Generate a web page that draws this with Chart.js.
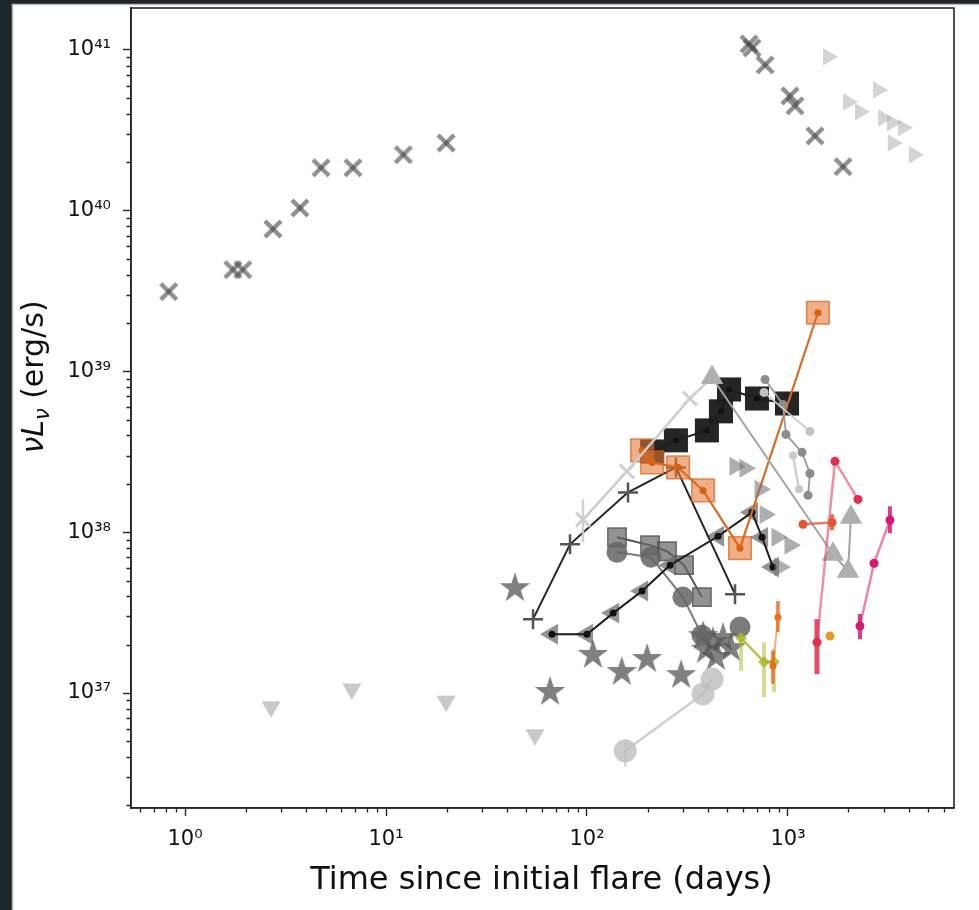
<!DOCTYPE html>
<html>
<head>
<meta charset="utf-8">
<script src="https://cdn.jsdelivr.net/npm/chart.js@4.4.1/dist/chart.umd.min.js"></script>
<style>
  html, body { margin: 0; padding: 0; background: #1d262b; }
  canvas { display: block; }
</style>
</head>
<body>
<canvas id="c" width="979" height="910"></canvas>
<script>
// ---- axis ranges and decade ticks ----
const X_MIN = 0.5386, X_MAX = 6698;
const Y_MIN = 1.926e36, Y_MAX = 1.824e41;
const xMajor = [1, 10, 100, 1000];
const yMajor = [1e37, 1e38, 1e39, 1e40, 1e41];

// ---- sources: time since flare (days) / nu L_nu (erg/s) ----
const xFlareX = [0.83, 1.73, 1.94, 2.74, 3.73, 4.75, 6.85, 12.2, 19.9, 640, 662, 769, 1023, 1083, 1362, 1879];
const yFlareX = [3.14e39, 4.3e39, 4.3e39, 7.7e39, 1.04e40, 1.85e40, 1.85e40, 2.23e40, 2.64e40, 1.09e41, 1.03e41, 8.07e40, 5.18e40, 4.49e40, 2.92e40, 1.88e40];

const xPaleRight = [1581, 1990, 2281, 2805, 2971, 3290, 3328, 3733, 4236];
const yPaleRight = [9.06e40, 4.75e40, 4.12e40, 5.64e40, 3.78e40, 3.52e40, 2.64e40, 3.28e40, 2.23e40];

const xDown = [2.68, 6.77, 19.9, 55.1];
const yDown = [8.2e36, 1.06e37, 8.9e36, 5.5e36];

const xStar = [43.8, 65.5, 107, 149, 199, 294, 378, 391, 423, 438, 475, 520];
const yStar = [4.55e37, 1.03e37, 1.75e37, 1.37e37, 1.65e37, 1.31e37, 2.29e37, 1.88e37, 2.1e37, 1.7e37, 2.23e37, 1.93e37];

const xBlackSq = [211, 277, 395, 464, 509, 701, 989];
const yBlackSq = [3.18e38, 3.73e38, 4.3e38, 5.65e38, 7.73e38, 6.79e38, 6.32e38];

const xGraySq = [141, 206, 250, 304, 373];
const yGraySq = [9.3e37, 8.3e37, 7.62e37, 6.24e37, 3.95e37];

const xGrayCirc = [141, 208, 300, 373, 577];
const yGrayCirc = [7.51e37, 7.0e37, 3.95e37, 2.29e37, 2.57e37];

const xPaleCirc = [155, 378, 419];
const yPaleCirc = [4.37e36, 9.86e36, 1.22e37];
const loPaleCirc = [3.5e36, null, null];
const hiPaleCirc = [4.9e36, null, null];

const xLeftTri = [67, 100, 135, 188, 259, 449, 662, 743, 842];
const yLeftTri = [2.32e37, 2.32e37, 3.14e37, 4.31e37, 6.24e37, 9.44e37, 1.33e38, 9.3e37, 6.07e37];

const xPlus = [53.9, 82.3, 160, 277, 545];
const yPlus = [2.88e37, 8.42e37, 1.77e38, 2.53e38, 4.12e37];

const xPaleX = [95.5, 158, 325, 419];
const yPaleX = [1.2e38, 2.39e38, 6.79e38, 9.18e38];
const loPaleX = [8.67e37, null, null, null];
const hiPaleX = [1.6e38, null, null, null];

const xGrayTri = [419, 1675, 1990, 2057];
const yGrayTri = [9.18e38, 7.3e37, 5.72e37, 1.24e38];

const xGrayRight = [545, 611, 726, 769, 881, 1023, 912];
const yGrayRight = [2.57e38, 2.5e38, 1.85e38, 1.29e38, 9.3e37, 8.3e37, 6.07e37];

const xDots = [769, 944, 977, 1174, 1286, 1258];
const yDots = [8.91e38, 6.24e38, 4.06e38, 3.14e38, 2.32e38, 1.7e38];
const xDotsPale = [760, 1286];
const yDotsPale = [7.41e38, 4.24e38];
const xDotsPale2 = [1059, 1135];
const yDotsPale2 = [3.0e38, 1.85e38];

const xOrangeSq = [188, 211, 284, 378, 577, 1409];
const yOrangeSq = [3.23e38, 2.72e38, 2.53e38, 1.82e38, 7.96e37, 2.32e39];

const xOlive = [584, 760, 851];
const yOlive = [2.2e37, 1.56e37, 1.56e37];
const loOlive = [1.37e37, 9.44e36, 1.01e37];
const hiOlive = [2.32e37, 2.07e37, 1.88e37];

const xOrange = [891, 842];
const yOrange = [2.96e37, 1.47e37];
const loOrange = [2.39e37, 1.14e37];
const hiOrange = [3.73e37, 1.83e37];

const xCrimson = [1394, 1713, 2230];
const yCrimson = [2.07e37, 2.76e38, 1.6e38];
const loCrimson = [1.31e37, null, null];
const hiCrimson = [2.88e37, null, null];

const xVermilion = [1188, 1656];
const yVermilion = [1.12e38, 1.15e38];
const loVermilion = [null, 1.03e38];
const hiVermilion = [null, 1.29e38];

const xMagenta = [2281, 2679, 3215];
const yMagenta = [2.61e37, 6.41e37, 1.19e38];
const loMagenta = [2.16e37, null, 9.86e37];
const hiMagenta = [3.1e37, null, 1.45e38];

const xGold = [1618];
const yGold = [2.26e37];

// ---- helpers ----
const pts = (xs, ys) => xs.map((x, i) => ({ x, y: ys[i] }));
const SUP = { '0': '\u2070', '1': '\u00b9', '2': '\u00b2', '3': '\u00b3', '4': '\u2074', '5': '\u2075', '6': '\u2076', '7': '\u2077', '8': '\u2078', '9': '\u2079', '-': '\u207b' };
const decadeLabel = v => '10' + String(Math.round(Math.log10(v))).split('').map(c => SUP[c]).join('');

function xMarker() {
  const c = document.createElement('canvas');
  c.width = c.height = 24;
  const g = c.getContext('2d');
  g.strokeStyle = 'rgba(70,70,70,0.6)';
  g.lineWidth = 4.5;
  g.beginPath(); g.moveTo(4, 4); g.lineTo(20, 20); g.stroke();
  g.beginPath(); g.moveTo(20, 4); g.lineTo(4, 20); g.stroke();
  return c;
}
function starMarker(R, fill) {
  const c = document.createElement('canvas');
  const s = Math.ceil(2 * R + 2);
  c.width = c.height = s;
  const g = c.getContext('2d');
  g.fillStyle = fill;
  g.beginPath();
  for (let k = 0; k < 10; k++) {
    const r = k % 2 ? R * 0.382 : R;
    const a = -Math.PI / 2 + k * Math.PI / 5;
    g.lineTo(s / 2 + r * Math.cos(a), s / 2 + r * Math.sin(a) + 1);
  }
  g.closePath();
  g.fill();
  return c;
}
const X_IMG = xMarker();
const STAR_IMG = starMarker(16, 'rgba(85,85,85,0.75)');

// ---- datasets, listed bottom to top ----
const datasets = [];
function add(ds) {
  ds.order = -datasets.length;
  datasets.push(Object.assign({ showLine: false, tension: 0, pointBorderWidth: 0 }, ds));
}

add({ data: pts(xFlareX, yFlareX), pointStyle: X_IMG, pointRadius: 10 });
add({ data: pts(xPaleRight, yPaleRight), pointStyle: 'triangle', pointRotation: 90, pointRadius: 10, pointBackgroundColor: 'rgba(170,170,170,0.5)' });
add({ data: pts(xDown, yDown), pointStyle: 'triangle', pointRotation: 180, pointRadius: 11, pointBackgroundColor: 'rgba(165,165,165,0.6)' });
add({ data: pts(xStar, yStar), pointStyle: STAR_IMG, pointRadius: 10 });

add({ data: pts(xBlackSq, yBlackSq), pointStyle: 'rect', pointRadius: 17, pointBackgroundColor: 'rgba(25,25,25,0.95)' });
add({ data: pts(xBlackSq, yBlackSq), showLine: true, borderColor: '#1e1e1e', borderWidth: 2, pointStyle: 'circle', pointRadius: 3, pointBackgroundColor: '#111' });

add({ data: pts(xGraySq, yGraySq), showLine: true, borderColor: 'rgba(70,70,70,0.9)', borderWidth: 2, pointStyle: 'rect', pointRadius: 13, pointBackgroundColor: 'rgba(100,100,100,0.7)', pointBorderColor: 'rgba(80,80,80,0.8)', pointBorderWidth: 1.5 });
add({ data: pts(xGrayCirc.slice(0, 4), yGrayCirc.slice(0, 4)), showLine: true, borderColor: 'rgba(110,110,110,0.9)', borderWidth: 2, pointRadius: 0 });
add({ data: pts(xGrayCirc, yGrayCirc), pointStyle: 'circle', pointRadius: 10.5, pointBackgroundColor: 'rgba(100,100,100,0.85)' });
add({ data: pts(xPaleCirc, yPaleCirc), errLo: loPaleCirc, errHi: hiPaleCirc, errColor: 'rgba(200,200,200,0.9)', errWidth: 2,
      showLine: true, borderColor: '#cfcfcf', borderWidth: 2.5, pointStyle: 'circle', pointRadius: 11.5, pointBackgroundColor: 'rgba(190,190,190,0.8)' });

add({ data: pts(xLeftTri, yLeftTri), pointStyle: 'triangle', pointRotation: 270, pointRadius: 12, pointBackgroundColor: 'rgba(105,105,105,0.72)' });
add({ data: pts(xLeftTri, yLeftTri), showLine: true, borderColor: '#1e1e1e', borderWidth: 2, pointStyle: 'circle', pointRadius: 3.5, pointBackgroundColor: '#111' });

add({ data: pts(xPlus, yPlus), showLine: true, borderColor: '#262626', borderWidth: 2, pointStyle: 'cross', pointRadius: 10, pointBorderColor: '#555', pointBorderWidth: 2.5 });

add({ data: pts(xOrangeSq, yOrangeSq), pointStyle: 'rect', pointRadius: 16, pointBackgroundColor: 'rgba(228,118,50,0.58)', pointBorderColor: 'rgba(215,95,20,0.7)', pointBorderWidth: 1.5 });
add({ data: pts(xOrangeSq, yOrangeSq), showLine: true, borderColor: '#dd6a1f', borderWidth: 2.2, pointStyle: 'circle', pointRadius: 3.5, pointBackgroundColor: '#d9600f' });

add({ data: pts(xPaleX, yPaleX), errLo: loPaleX, errHi: hiPaleX, errColor: 'rgba(205,205,205,0.95)', errWidth: 2.5,
      showLine: true, borderColor: '#cdcdcd', borderWidth: 2.5, pointStyle: 'crossRot', pointRadius: [10, 10, 10, 0], pointBorderColor: '#d0d0d0', pointBorderWidth: 3 });

add({ data: pts(xGrayTri, yGrayTri), showLine: true, borderColor: '#a3a3a3', borderWidth: 2, pointStyle: 'triangle', pointRadius: 13, pointBackgroundColor: '#afafaf' });
add({ data: pts(xGrayRight, yGrayRight), pointStyle: 'triangle', pointRotation: 90, pointRadius: 11, pointBackgroundColor: 'rgba(120,120,120,0.6)' });

add({ data: pts(xDots, yDots), showLine: true, borderColor: '#9a9a9a', borderWidth: 1.8, pointStyle: 'circle', pointRadius: 4.5, pointBackgroundColor: '#8c8c8c' });
add({ data: pts(xDotsPale, yDotsPale), showLine: true, borderColor: '#c8c8c8', borderWidth: 1.8, pointStyle: 'circle', pointRadius: 4.5, pointBackgroundColor: '#c2c2c2' });
add({ data: pts(xDotsPale2, yDotsPale2), showLine: true, borderColor: '#cfcfcf', borderWidth: 2.5, pointStyle: 'circle', pointRadius: 4, pointBackgroundColor: '#c8c8c8' });

add({ data: pts(xOlive, yOlive), errLo: loOlive, errHi: hiOlive, errColor: 'rgba(181,190,60,0.55)', errWidth: 4,
      showLine: true, borderColor: 'rgba(170,180,40,0.8)', borderWidth: 2.5, pointStyle: 'rectRot', pointRadius: 6, pointBackgroundColor: 'rgba(170,180,40,0.8)' });
add({ data: pts(xOrange, yOrange), errLo: loOrange, errHi: hiOrange, errColor: 'rgba(230,110,30,0.85)', errWidth: 3.5,
      showLine: true, borderColor: 'rgba(232,112,26,0.55)', borderWidth: 2, pointStyle: 'circle', pointRadius: 3.5, pointBackgroundColor: '#e8701a' });
add({ data: pts(xCrimson, yCrimson), errLo: loCrimson, errHi: hiCrimson, errColor: 'rgba(220,45,75,0.85)', errWidth: 5,
      showLine: true, borderColor: 'rgba(228,70,100,0.6)', borderWidth: 2.5, pointStyle: 'circle', pointRadius: 4.5, pointBackgroundColor: '#e0304e' });
add({ data: pts(xVermilion, yVermilion), errLo: loVermilion, errHi: hiVermilion, errColor: 'rgba(230,82,44,0.85)', errWidth: 4,
      showLine: true, borderColor: 'rgba(230,82,44,0.75)', borderWidth: 2.5, pointStyle: 'circle', pointRadius: 4.5, pointBackgroundColor: '#e6522c' });
add({ data: pts(xMagenta, yMagenta), errLo: loMagenta, errHi: hiMagenta, errColor: 'rgba(214,24,110,0.85)', errWidth: 4,
      showLine: true, borderColor: 'rgba(220,50,120,0.6)', borderWidth: 2.5, pointStyle: 'circle', pointRadius: 4.5, pointBackgroundColor: '#d6186e' });
add({ data: pts(xGold, yGold), pointStyle: 'circle', pointRadius: 4.5, pointBackgroundColor: '#e69a1c' });

// ---- plugins ----
const paper = {
  id: 'paper',
  beforeDraw(chart) {
    const g = chart.ctx;
    g.save();
    g.fillStyle = '#1d262b';
    g.fillRect(0, 0, chart.width, chart.height);
    g.fillStyle = '#ffffff';
    g.fillRect(12, 4, chart.width - 12, chart.height - 4);
    g.strokeStyle = '#b8bdc0';
    g.lineWidth = 1.5;
    g.beginPath();
    g.moveTo(12, 4.5); g.lineTo(chart.width, 4.5);
    g.moveTo(12.5, 4); g.lineTo(12.5, chart.height);
    g.stroke();
    g.restore();
  }
};

const errorBars = {
  id: 'errorBars',
  beforeDatasetDraw(chart, args) {
    const ds = chart.data.datasets[args.index];
    if (!ds.errLo) return;
    const { x, y } = chart.scales;
    const g = chart.ctx;
    g.save();
    g.strokeStyle = ds.errColor;
    g.lineWidth = ds.errWidth;
    ds.data.forEach((p, i) => {
      if (ds.errLo[i] == null) return;
      const px = x.getPixelForValue(p.x);
      g.beginPath();
      g.moveTo(px, y.getPixelForValue(ds.errLo[i]));
      g.lineTo(px, y.getPixelForValue(ds.errHi[i]));
      g.stroke();
    });
    g.restore();
  }
};

const frameAndMinor = {
  id: 'frameAndMinor',
  afterDraw(chart) {
    const { ctx: g, chartArea: a, scales: { x, y } } = chart;
    g.save();
    g.strokeStyle = '#262626';
    g.lineWidth = 1.3;
    g.beginPath();
    for (let e = -1; e <= 4; e++) {
      for (let m = 2; m <= 9; m++) {
        const v = m * Math.pow(10, e);
        if (v > X_MIN && v < X_MAX) {
          const px = Math.round(x.getPixelForValue(v)) + 0.5;
          g.moveTo(px, a.bottom); g.lineTo(px, a.bottom + 4.5);
        }
      }
    }
    for (let e = 36; e <= 41; e++) {
      for (let m = 2; m <= 9; m++) {
        const v = m * Math.pow(10, e);
        if (v > Y_MIN && v < Y_MAX) {
          const py = Math.round(y.getPixelForValue(v)) + 0.5;
          g.moveTo(a.left, py); g.lineTo(a.left - 4.5, py);
        }
      }
    }
    g.stroke();
    g.lineWidth = 1.6;
    g.strokeRect(a.left, a.top, a.right - a.left, a.bottom - a.top);

    // axis titles
    g.fillStyle = '#111';
    g.textBaseline = 'alphabetic';
    g.font = '32px "DejaVu Sans"';
    g.textAlign = 'center';
    g.fillText('Time since initial flare (days)', (a.left + a.right) / 2 - 1, 889);

    g.translate(43, 377);
    g.rotate(-Math.PI / 2);
    const parts = [
      { t: '\u03bdL', f: 'italic 30px "DejaVu Sans"', dy: 0 },
      { t: '\u03bd', f: 'italic 21px "DejaVu Sans"', dy: 6 },
      { t: ' (erg/s)', f: '30px "DejaVu Sans"', dy: 0 }
    ];
    let w = 0;
    parts.forEach(p => { g.font = p.f; w += g.measureText(p.t).width; });
    let cx = -w / 2;
    g.textAlign = 'left';
    parts.forEach(p => { g.font = p.f; g.fillText(p.t, cx, p.dy); cx += g.measureText(p.t).width; });
    g.restore();
  }
};

const tickFont = { family: 'DejaVu Sans', size: 21 };

new Chart(document.getElementById('c'), {
  type: 'scatter',
  data: { datasets },
  options: {
    responsive: false,
    animation: false,
    devicePixelRatio: 1,
    events: [],
    layout: { autoPadding: false, padding: { left: 0, right: 25, top: 8, bottom: 0 } },
    plugins: { legend: { display: false }, tooltip: { enabled: false } },
    scales: {
      x: {
        type: 'logarithmic', min: X_MIN, max: X_MAX, bounds: 'data',
        afterBuildTicks: s => { s.ticks = xMajor.map(v => ({ value: v })); },
        afterFit: s => { s.height = 102; s.paddingLeft = 0; s.paddingRight = 0; },
        ticks: { callback: v => decadeLabel(v), color: '#111', font: tickFont, padding: 11, maxRotation: 0, autoSkip: false },
        grid: { drawOnChartArea: false, drawTicks: true, tickLength: 8, tickWidth: 1.4, tickColor: '#262626' },
        border: { display: true, color: '#262626', width: 1.6 }
      },
      y: {
        type: 'logarithmic', min: Y_MIN, max: Y_MAX, bounds: 'data',
        afterBuildTicks: s => { s.ticks = yMajor.map(v => ({ value: v })); },
        afterFit: s => { s.width = 131; s.paddingTop = 0; s.paddingBottom = 0; },
        ticks: { callback: v => decadeLabel(v), color: '#111', font: tickFont, padding: 12, autoSkip: false },
        grid: { drawOnChartArea: false, drawTicks: true, tickLength: 8, tickWidth: 1.4, tickColor: '#262626' },
        border: { display: true, color: '#262626', width: 1.6 }
      }
    }
  },
  plugins: [paper, errorBars, frameAndMinor]
});
</script>
</body>
</html>
